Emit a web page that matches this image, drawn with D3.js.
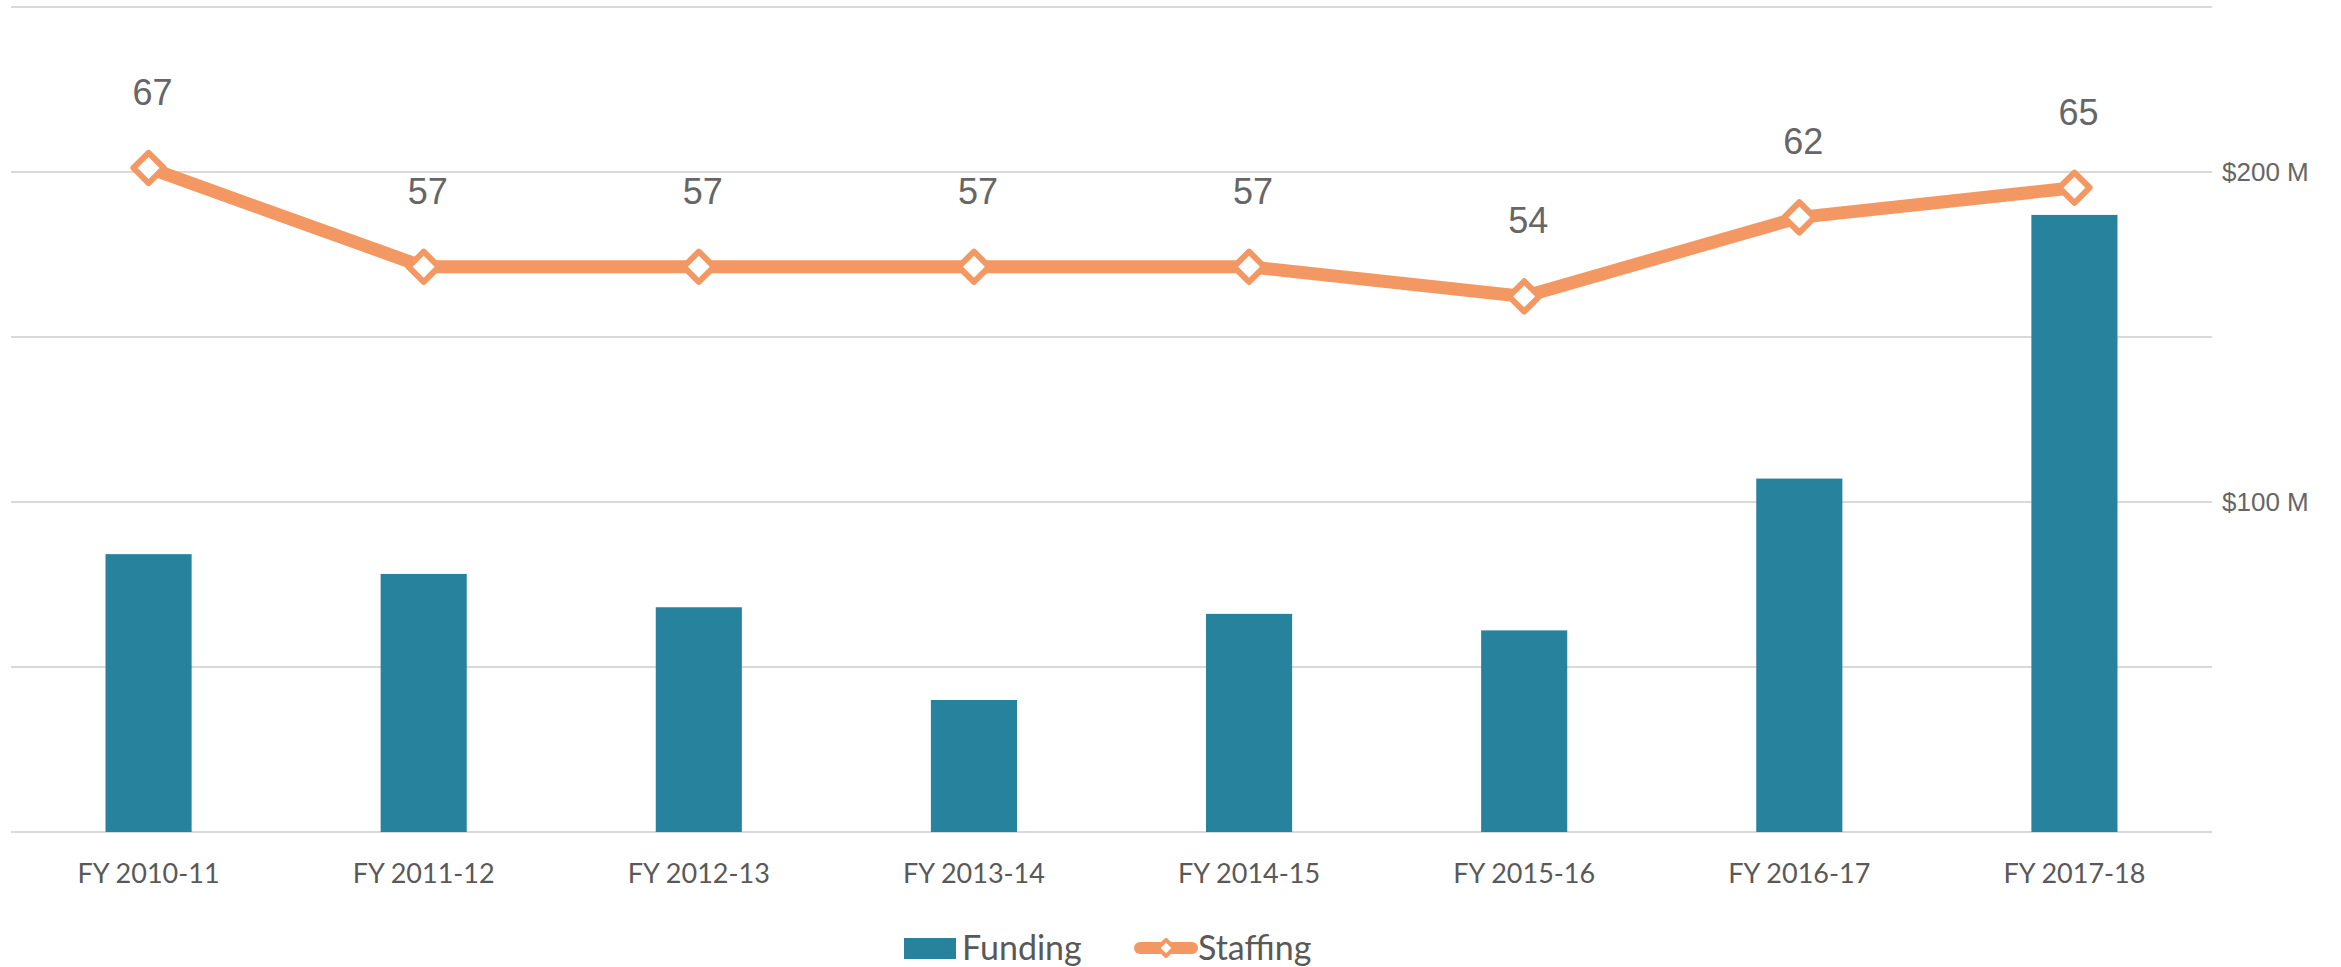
<!DOCTYPE html>
<html>
<head>
<meta charset="utf-8">
<script src="https://cdn.jsdelivr.net/npm/d3@7"></script>
<style>
  body { margin: 0; background: #fff; }
  svg { display: block; }
</style>
</head>
<body>
<div id="chart"></div>
<script>
// fiscal years, funding in $M (right axis), staffing head count (line)
var years = ["FY 2010-11", "FY 2011-12", "FY 2012-13", "FY 2013-14",
             "FY 2014-15", "FY 2015-16", "FY 2016-17", "FY 2017-18"];
var funding = [84.2, 78.2, 68.1, 40.0, 66.1, 61.1, 107.1, 187.0];
var staffing = [67, 57, 57, 57, 57, 54, 62, 65];
var gridTicks = [0, 50, 100, 150, 200, 250];
var axisTicks = [100, 200];

var width = 2341,
	height = 967,
	plotLeft = 11,
	plotRight = 2212,
	plotBottom = 832,
	plotTop = 7;

var barColor = "#27829d",
	lineColor = "#f39862",
	textColor = "#666666";

var x = d3.scaleBand()
	.domain(years)
	.range([plotLeft, plotRight])
	.paddingInner(0.687)
	.paddingOuter(0.3435);

var yFund = d3.scaleLinear()
	.domain([0, 250])
	.range([plotBottom, plotTop]);

var yStaff = d3.scaleLinear()
	.domain([0, 84])
	.range([830, 0]);

var svg = d3.select("#chart")
	.append("svg")
	.attr("width", width)
	.attr("height", height);

// gridlines
svg.append("g")
	.selectAll("line")
	.data(gridTicks)
	.enter().append("line")
	.attr("x1", plotLeft)
	.attr("x2", plotRight)
	.attr("y1", function(d) { return yFund(d); })
	.attr("y2", function(d) { return yFund(d); })
	.style("stroke", "#d9d9d9")
	.style("stroke-width", 2);

// right axis labels
var yAxis = d3.axisRight(yFund)
	.tickValues(axisTicks)
	.tickSize(0)
	.tickPadding(10)
	.tickFormat(function(d) { return "$" + d + " M"; });

var ax = svg.append("g")
	.attr("transform", "translate(" + plotRight + ",0)")
	.call(yAxis);
ax.select(".domain").remove();
ax.selectAll("text")
	.style("font-family", "'Liberation Sans', Arial, sans-serif")
	.style("font-size", "26px")
	.style("fill", textColor);

// bars
svg.append("g")
	.selectAll("rect")
	.data(funding)
	.enter().append("rect")
	.attr("x", function(d, i) { return x(years[i]); })
	.attr("width", x.bandwidth())
	.attr("y", function(d) { return yFund(d); })
	.attr("height", function(d) { return plotBottom - yFund(d); })
	.style("fill", barColor);

// x axis labels
var xAxis = d3.axisBottom(x)
	.tickSize(0)
	.tickPadding(32);

var xa = svg.append("g")
	.attr("transform", "translate(0," + plotBottom + ")")
	.call(xAxis);
xa.select(".domain").remove();
xa.selectAll("text")
	.style("font-family", "Lato, 'Noto Sans', sans-serif")
	.style("font-size", "27px")
	.style("fill", "#595959");

// staffing line
var line = d3.line()
	.x(function(d, i) { return x(years[i]) + x.bandwidth() / 2; })
	.y(function(d) { return yStaff(d); });

svg.append("path")
	.datum(staffing)
	.attr("d", line)
	.style("fill", "none")
	.style("stroke", lineColor)
	.style("stroke-width", 13)
	.style("stroke-linejoin", "round")
	.style("stroke-linecap", "round");

var diamond = d3.symbol().type(d3.symbolSquare).size(460);

svg.append("g")
	.selectAll("path")
	.data(staffing)
	.enter().append("path")
	.attr("d", diamond)
	.attr("transform", function(d, i) {
		return "translate(" + (x(years[i]) + x.bandwidth() / 2) + "," + yStaff(d) + ") rotate(45)";
	})
	.style("fill", "#fff")
	.style("stroke", lineColor)
	.style("stroke-width", 6)
	.style("stroke-linejoin", "round");

// data labels
svg.append("g")
	.selectAll("text")
	.data(staffing)
	.enter().append("text")
	.attr("x", function(d, i) { return x(years[i]) + x.bandwidth() / 2 + 4; })
	.attr("y", function(d) { return yStaff(d) - 63; })
	.attr("text-anchor", "middle")
	.text(function(d) { return d; })
	.style("font-family", "'Liberation Sans', Arial, sans-serif")
	.style("font-size", "36px")
	.style("fill", textColor);

// legend
var legend = svg.append("g")
	.style("font-family", "Lato, 'Noto Sans', sans-serif")
	.style("font-size", "34px")
	.style("fill", "#595959");

legend.append("rect")
	.attr("x", 904)
	.attr("y", 938)
	.attr("width", 52)
	.attr("height", 21)
	.style("fill", barColor);

legend.append("text")
	.attr("x", 962)
	.attr("y", 948)
	.attr("dy", "0.35em")
	.text("Funding");

legend.append("line")
	.attr("x1", 1140)
	.attr("x2", 1192)
	.attr("y1", 948)
	.attr("y2", 948)
	.style("stroke", lineColor)
	.style("stroke-width", 12)
	.style("stroke-linecap", "round");

legend.append("path")
	.attr("d", d3.symbol().type(d3.symbolSquare).size(130))
	.attr("transform", "translate(1166,948) rotate(45)")
	.style("fill", "#fff")
	.style("stroke", lineColor)
	.style("stroke-width", 4)
	.style("stroke-linejoin", "round");

legend.append("text")
	.attr("x", 1198)
	.attr("y", 948)
	.attr("dy", "0.35em")
	.text("Staffing");
</script>
</body>
</html>
